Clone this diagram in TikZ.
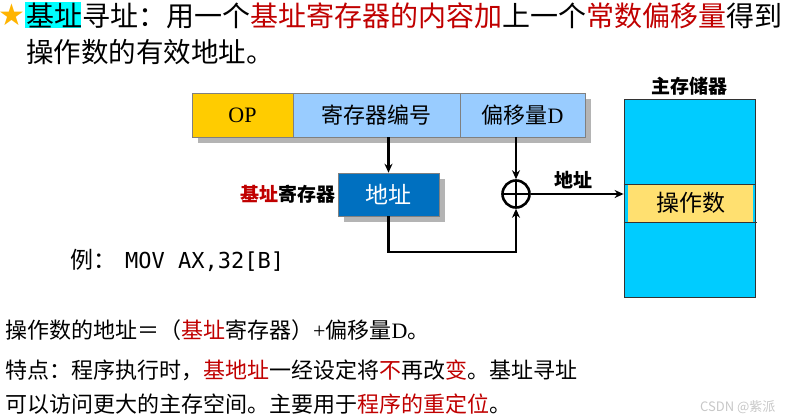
\documentclass[tikz,border=0pt]{standalone}
\usepackage{fontspec}
\setmainfont{Noto Sans CJK SC}
\newfontfamily\tms{Liberation Serif}
\newfontfamily\mono{DejaVu Sans Mono}
\newfontfamily\sym{DejaVu Sans}
\usetikzlibrary{arrows.meta,calc}
\definecolor{myred}{HTML}{C00000}
\definecolor{hl}{HTML}{00FFFF}
\definecolor{staryel}{HTML}{FFB400}
\definecolor{opyel}{HTML}{FFCC00}
\definecolor{fieldblue}{HTML}{99CCFF}
\definecolor{regblue}{HTML}{0070C0}
\definecolor{memblue}{HTML}{00CCFF}
\definecolor{cellyel}{HTML}{FFE070}
\definecolor{shadowgray}{HTML}{B4B4B4}
\definecolor{edgegray}{HTML}{808080}
\newcommand{\fs}[1]{\fontsize{#1}{#1}\selectfont}
\begin{document}
\begin{tikzpicture}[x=1pt,y=-1pt,
  txt/.style={inner sep=0pt, anchor=base west},
  field/.style={draw=edgegray, line width=0.8pt, minimum height=44pt, inner sep=0pt, font=\fs{22}},
  conn/.style={line width=2.4pt, -{Stealth[length=9pt,width=8pt]}},
  lbl/.style={inner sep=0pt, font=\fs{19}\bfseries}]
\useasboundingbox (0,0) rectangle (793,418);
% title
\fill[hl] (25,2) rectangle (81,28);
\node[txt, text=staryel] (star) at (-2,25) {\sym\fs{30}★};
\node[txt] (t1) at (26,26) {\fs{28}基址寻址：用一个\textcolor{myred}{基址寄存器的内容加}上一个\textcolor{myred}{常数偏移量}得到};
\node[txt] (t2) at (26,62) {\fs{27.5}操作数的有效地址。};
% instruction format
\fill[shadowgray] (198,99) rectangle (591,143);
\node[field, fill=opyel, minimum width=101pt] (op) at (242.5,115) {\tms OP};
\node[field, fill=fieldblue, minimum width=167pt] (reg) at (376.5,115) {寄存器编号};
\node[field, fill=fieldblue, minimum width=125pt] (disp) at (522.5,115) {偏移量{\tms D}};
% base register
\fill[shadowgray] (344,179) rectangle (445,222);
\node[draw=edgegray, line width=0.6pt, fill=regblue, minimum width=101pt, minimum height=43pt, inner sep=0pt, text=white, font=\fs{23}] (addr) at (388.5,194.5) {地址};
\node[lbl, anchor=east] (breg) at (336,194) {\textcolor{myred}{基址}寄存器};
% adder
\node[circle, draw, line width=2.6pt, minimum size=27pt, inner sep=0pt,
  path picture={\draw[line width=2.4pt] (path picture bounding box.north) -- (path picture bounding box.south)
  (path picture bounding box.west) -- (path picture bounding box.east);}] (adder) at (516,194) {};
% memory
\node[draw=black!80, line width=0.8pt, fill=memblue, minimum width=131pt, minimum height=198pt, inner sep=0pt] (mem) at (689.5,198) {};
\node[fill=cellyel, minimum width=125pt, minimum height=37pt, inner sep=0pt, font=\fs{23}] (cell) at (690.5,203) {操作数};
\draw[line width=0.8pt, black!80] (mem.west |- 0,184) -- (mem.east |- 0,184);
\draw[line width=0.8pt, black!80] (mem.west |- 0,222) -- ($(mem.east |- 0,222)+(2,0)$);
\node[lbl, anchor=south] (memlbl) at (689,96) {主存储器};
% connectors
\coordinate (turn) at (516,252);
\draw[conn] (addr.north |- reg.south) -- (addr.north);
\draw[conn] (adder.north |- disp.south) -- (adder.north);
\draw[conn] (addr.south) |- (turn) -- (adder.south);
\draw[conn] (adder.east) -- (adder.east -| mem.west);
\node[lbl, anchor=base] (alabel) at (573,187) {地址};
% example
\node[txt] (ex) at (70,268) {\fs{23}例：\hspace{9pt}\mono\fs{22}MOV AX,32[B]};
% bottom text
\node[txt] (b1) at (5,338) {\fs{22}操作数的地址＝（\textcolor{myred}{基址}寄存器）{\tms +}偏移量{\tms D}。};
\node[txt] (b2) at (5,378) {\fs{22}特点：程序执行时，\textcolor{myred}{基地址}一经设定将\textcolor{myred}{不}再改\textcolor{myred}{变}。基址寻址};
\node[txt] (b3) at (5,412) {\fs{22}可以访问更大的主存空间。主要用于\textcolor{myred}{程序的重定位}。};
\node[txt, text=black!22] (wm) at (700,411) {\fs{13}CSDN @紫派};
\end{tikzpicture}
\end{document}
